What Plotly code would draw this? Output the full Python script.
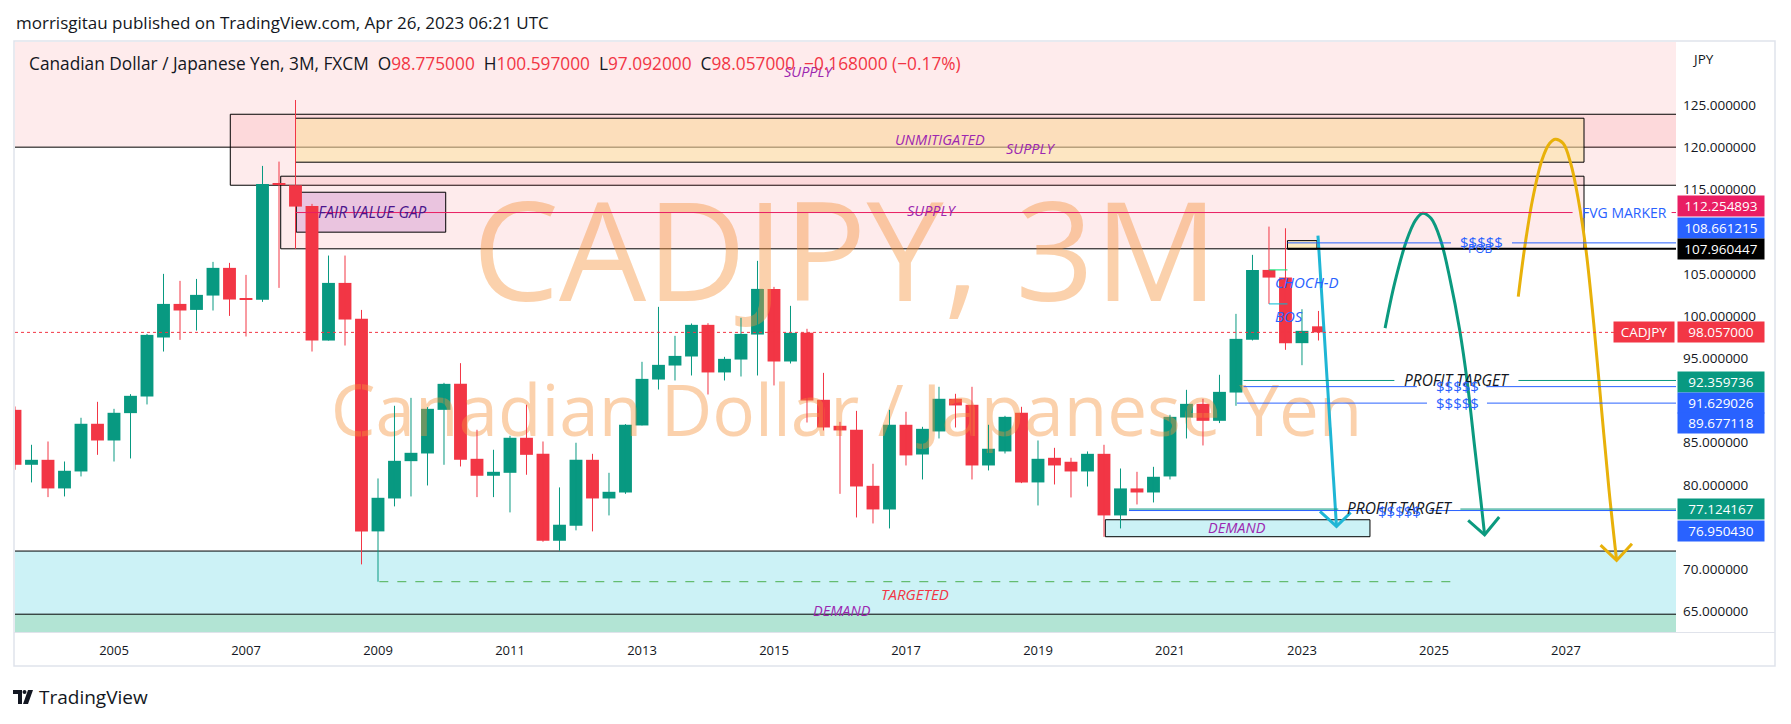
import plotly.graph_objects as go

# ---------------- data (quarterly CADJPY candles, 2003Q3 .. 2023Q2) ----------------
first_year, first_q = 2003, 3
opens = [88.88, 82.37, 82.96, 79.57, 81.58, 87.23, 85.25, 88.49, 90.46, 97.45,
         101.43, 100.72, 102.42, 105.70, 101.99, 101.91, 115.62, 115.49, 113.04, 97.09,
         103.92, 99.66, 74.48, 78.38, 82.80, 83.71, 88.88, 91.96, 83.08, 81.07,
         81.42, 85.57, 83.67, 73.37, 75.15, 82.96, 78.38, 79.09, 87.03, 92.47,
         94.13, 95.20, 98.95, 93.31, 94.84, 97.80, 103.21, 94.61, 98.00, 90.07,
         86.99, 86.52, 79.88, 77.08, 87.11, 83.59, 86.32, 90.19, 89.48, 82.29,
         83.95, 88.53, 80.28, 83.20, 82.73, 81.58, 83.67, 76.37, 79.57, 79.09,
         80.99, 87.97, 89.59, 87.58, 90.93, 97.17, 105.46, 104.55, 96.78, 98.775]
highs = [89.28, 84.74, 85.13, 82.76, 87.94, 89.83, 89.00, 90.74, 97.88, 104.99,
         104.16, 104.39, 106.41, 106.29, 104.87, 117.78, 118.29, 125.59, 113.28, 107.16,
         107.16, 100.72, 80.75, 89.36, 90.30, 89.20, 92.08, 94.41, 86.52, 84.15,
         85.81, 89.48, 85.13, 79.69, 84.98, 83.67, 81.42, 87.19, 94.57, 101.08,
         97.65, 99.11, 99.15, 95.16, 99.78, 106.53, 103.45, 101.20, 98.48, 93.26,
         87.46, 88.76, 82.49, 88.88, 88.65, 86.87, 91.61, 90.78, 91.61, 87.11,
         88.17, 89.24, 85.25, 84.38, 83.20, 83.95, 84.74, 81.93, 81.54, 82.13,
         88.29, 91.25, 90.19, 93.03, 100.25, 107.24, 110.59, 110.39, 100.80, 100.597]
lows = [81.78, 80.28, 78.54, 78.62, 80.99, 83.55, 82.76, 83.12, 89.52, 95.79,
        97.17, 98.27, 100.65, 100.01, 97.57, 101.67, 103.33, 107.95, 95.79, 97.09,
        96.50, 70.57, 68.52, 77.44, 78.62, 79.92, 82.37, 82.17, 78.54, 78.54,
        76.73, 81.19, 73.25, 72.19, 74.60, 74.48, 76.37, 78.93, 87.03, 91.29,
        92.36, 92.95, 90.70, 92.36, 92.83, 92.95, 91.77, 94.37, 87.38, 86.44,
        78.93, 76.13, 75.42, 74.83, 82.29, 80.63, 85.49, 86.79, 80.63, 81.70,
        83.71, 80.20, 77.55, 80.04, 78.50, 79.80, 73.84, 74.83, 77.67, 77.91,
        80.63, 85.49, 84.66, 87.31, 89.36, 97.10, 101.43, 95.99, 94.17, 97.092]
closes = [82.37, 82.96, 79.57, 81.66, 87.23, 85.25, 88.53, 90.54, 97.76, 101.43,
          100.65, 102.50, 105.70, 101.95, 101.93, 115.65, 115.52, 112.96, 97.09, 103.92,
          99.58, 74.48, 78.46, 82.84, 83.79, 89.00, 91.96, 82.96, 81.07, 81.54,
          85.57, 83.55, 73.37, 75.27, 82.96, 78.38, 79.17, 87.11, 92.55, 94.21,
          95.27, 98.95, 93.31, 94.92, 97.88, 103.21, 94.61, 98.00, 89.99, 86.79,
          86.44, 79.80, 77.08, 87.11, 83.48, 86.63, 90.19, 89.40, 82.29, 84.27,
          88.05, 80.28, 83.08, 82.29, 81.58, 83.67, 76.37, 79.57, 79.09, 80.95,
          88.05, 89.59, 87.58, 91.01, 97.29, 105.46, 104.55, 96.78, 98.24, 98.057]

year_ticks = [2005, 2007, 2009, 2011, 2013, 2015, 2017, 2019, 2021, 2023, 2025, 2027]
price_ticks = [65, 70, 80, 85, 95, 100, 105, 115, 120, 125]   # 75, 90, 110 hidden by level labels

# horizontal levels shown on the price scale
level_values = [112.254893, 108.661215, 107.960447, 92.359736, 91.629026, 89.677118, 77.124167, 76.950430]
level_colors = ["#e91e63", "#2962ff", "#000000", "#089981", "#2962ff", "#2962ff", "#089981", "#2962ff"]
level_label_px = [206, 228, 249.3, 381.7, 402.5, 423.3, 509, 531]   # label box centres (px) after de-overlap
last_price = 98.057

# hand-drawn projection paths (decimal year, price)
teal_path_t = [2024.259, 2024.404, 2024.579, 2024.723, 2024.827, 2024.955, 2025.100, 2025.245, 2025.389, 2025.506, 2025.621, 2025.709, 2025.767]
teal_path_v = [98.56, 103.89, 108.81, 111.38, 112.18, 111.58, 109.01, 104.28, 98.36, 92.05, 84.15, 78.23, 74.08]
teal_head_t = [2025.518, 2025.767, 2025.988]
teal_head_v = [75.78, 74.08, 76.18]
gold_path_t = [2026.277, 2026.376, 2026.492, 2026.636, 2026.753, 2026.839, 2026.956, 2027.071, 2027.188, 2027.303, 2027.420, 2027.535, 2027.652, 2027.767]
gold_path_v = [102.30, 108.22, 113.75, 118.49, 120.46, 120.94, 120.46, 118.10, 113.75, 107.83, 99.15, 89.27, 79.41, 71.04]
gold_head_t = [2027.524, 2027.767, 2028.0]
gold_head_v = [72.86, 71.04, 73.02]
cyan_path_t = [2023.242, 2023.523]
cyan_path_v = [109.52, 75.07]
cyan_head_t = [2023.273, 2023.523, 2023.738]
cyan_head_v = [76.84, 75.07, 76.72]

# ---------------- layout geometry ----------------
W, H = 1791, 724
PL, PR, PT, PB = 15, 1676, 42, 632          # plot area in px
X0, X1 = 2003.5, 2028.667
Y0, Y1 = 62.56, 132.46
GREEN, RED = "#089981", "#f23645"
BLUE, PURPLE, TXT = "#2962ff", "#9c27b0", "#131722"
FONT = "Open Sans"

def pxp(x, y):
    return (x - PL) / (PR - PL), (PB - y) / (PB - PT)

xs = []
for i in range(len(opens)):
    q = first_q - 1 + i
    xs.append(first_year + q / 4.0)

fig = go.Figure()

# watermark (drawn first so candles sit above it)
fig.add_trace(go.Scatter(x=[2016.08, 2016.10], y=[105.9, 87.9], mode="text",
                         text=["CADJPY, 3M", "Canadian Dollar / Japanese Yen"],
                         textposition="middle center",
                         textfont=dict(family=FONT, size=[138, 71], color="rgba(245,145,58,0.42)"),
                         hoverinfo="skip", showlegend=False))

# wicks
for col, up in ((GREEN, True), (RED, False)):
    wx, wy = [], []
    for xi, o, h, l, c in zip(xs, opens, highs, lows, closes):
        if (c >= o) == up:
            wx += [xi, xi, None]
            wy += [l, h, None]
    fig.add_trace(go.Scatter(x=wx, y=wy, mode="lines", line=dict(color=col, width=1),
                             hoverinfo="skip", showlegend=False))

# bodies
base = [min(o, c) for o, c in zip(opens, closes)]
height = [max(abs(c - o), 0.13) for o, c in zip(opens, closes)]
colors = [GREEN if c >= o else RED for o, c in zip(opens, closes)]
fig.add_trace(go.Bar(x=xs, y=height, base=base, width=0.195, marker=dict(color=colors, line=dict(width=0)),
                     hoverinfo="skip", showlegend=False))

# projection curves
def curve(t, v, col, shape="spline"):
    fig.add_trace(go.Scatter(x=t, y=v, mode="lines", line=dict(color=col, width=3, shape=shape, smoothing=1.0),
                             hoverinfo="skip", showlegend=False))

curve(cyan_path_t, cyan_path_v, "#1fb6d5", "linear")
curve(cyan_head_t, cyan_head_v, "#1fb6d5", "linear")
curve(teal_path_t, teal_path_v, "#0b9a7f")
curve(teal_head_t, teal_head_v, "#0b9a7f", "linear")
curve(gold_path_t, gold_path_v, "#e8b10a")
curve(gold_head_t, gold_head_v, "#e8b10a", "linear")

shapes = []
PINK = "rgba(242,54,69,0.10)"

def rect(x0, x1, y0, y1, fill, line="black", lw=1):
    shapes.append(dict(type="rect", xref="x", yref="y", x0=x0, x1=x1, y0=y0, y1=y1,
                       fillcolor=fill, line=dict(color=line, width=lw), layer="below"))

def hline(x0, x1, v, col, lw=1, dash="solid", gaps=(), layer="above"):
    pts = [x0]
    for g0, g1 in gaps:
        pts += [g0, g1]
    pts.append(x1)
    for a, b in zip(pts[0::2], pts[1::2]):
        shapes.append(dict(type="line", xref="x", yref="y", x0=a, x1=b, y0=v, y1=v,
                           line=dict(color=col, width=lw, dash=dash), layer=layer))

XE = 2029.5
# supply zones
rect(1999, XE, 120.0, 140, PINK)
rect(2006.762, XE, 115.49, 123.90, PINK)
rect(2007.75, 2027.273, 118.22, 123.43, "rgba(251,226,160,0.55)")
rect(2007.526, 2027.273, 107.96, 116.56, PINK)
rect(2007.762, 2010.026, 109.93, 114.66, "rgba(156,39,176,0.20)")
# demand zones
rect(1999, XE, 50, 72.15, "rgba(0,188,212,0.20)")
rect(1999, XE, 50, 64.67, "rgba(76,175,80,0.20)")
rect(2020.02, 2024.03, 73.85, 75.86, "rgba(0,188,212,0.20)")
rect(2022.78, 2023.227, 107.96, 108.93, "rgba(255,235,59,0.25)")

# lines
hline(X0, XE, last_price, RED, 1, "dot")
hline(2007.75, XE, level_values[0], "#e91e63", 1, gaps=[(2027.10, 2028.6)])
hline(2022.78, XE, level_values[1], BLUE, 1, gaps=[(2025.258, 2026.182)])
hline(2022.78, XE, level_values[2], "black", 2)
hline(2022.114, XE, level_values[3], GREEN, 1, gaps=[(2024.40, 2026.28)])
hline(2022.114, XE, level_values[4], BLUE, 1, gaps=[(2024.74, 2025.795)])
hline(2022.015, XE, level_values[5], BLUE, 1, gaps=[(2024.894, 2025.803)])
hline(2020.379, XE, level_values[6], GREEN, 1, gaps=[(2023.55, 2025.40)])
hline(2020.379, XE, level_values[7], BLUE, 1, gaps=[(2024.03, 2024.93)])
hline(2009.02, 2025.25, 68.52, "#4caf50", 1, "dash")
hline(2022.5, 2022.78, 105.46, "#00e676", 1)
hline(2022.5, 2022.78, 101.43, "#00bcd4", 1)

# frame and separators (paper coords)
fx0, fy0 = pxp(14, 666)
fx1, fy1 = pxp(1775, 41)
shapes.append(dict(type="rect", xref="paper", yref="paper", x0=fx0, x1=fx1, y0=fy0, y1=fy1,
                   line=dict(color="#e0e3eb", width=1.5), fillcolor="rgba(0,0,0,0)", layer="above"))
sx0, sy = pxp(14, 632.5)
sx1, _ = pxp(1775, 632.5)
shapes.append(dict(type="line", xref="paper", yref="paper", x0=sx0, x1=sx1, y0=sy, y1=sy,
                   line=dict(color="#e0e3eb", width=1), layer="above"))

# TradingView logo glyph
def ppath(points):
    s = ""
    for k, (a, b) in enumerate(points):
        px, py = pxp(a, b)
        s += ("M" if k == 0 else "L") + f"{px:.5f},{py:.5f} "
    return s + "Z"
shapes.append(dict(type="path", xref="paper", yref="paper", path=ppath([(13, 690), (22, 690), (22, 704), (18, 704), (18, 694), (13, 694)]),
                   fillcolor="#131722", line=dict(width=0)))
shapes.append(dict(type="path", xref="paper", yref="paper", path=ppath([(28, 690), (33, 690), (28, 704), (23, 704)]),
                   fillcolor="#131722", line=dict(width=0)))
cx0, cy0 = pxp(22.5, 690)
cx1, cy1 = pxp(26.5, 694)
shapes.append(dict(type="circle", xref="paper", yref="paper", x0=cx0, x1=cx1, y0=cy1, y1=cy0,
                   fillcolor="#131722", line=dict(width=0)))

ann = []

def txt(t, v, s, col, size=13, italic=False, xanchor="center"):
    ann.append(dict(x=t, y=v, xref="x", yref="y", text=(f"<i>{s}</i>" if italic else s),
                    showarrow=False, xanchor=xanchor, yanchor="middle",
                    font=dict(family=FONT, size=size, color=col)))

txt(2015.53, 128.95, "SUPPLY", PURPLE, 14.5, True)
txt(2017.515, 120.94, "UNMITIGATED", PURPLE, 14.5, True)
txt(2018.89, 119.87, "SUPPLY", PURPLE, 14.5, True)
txt(2017.40, 112.45, "SUPPLY", PURPLE, 14.5, True)
txt(2008.92, 112.37, "FAIR VALUE GAP", "#4a148c", 15.5, True)
txt(2027.88, 112.25, "FVG MARKER", BLUE, 14)
txt(2025.727, 108.75, "$$$$$", BLUE, 15)
txt(2025.71, 108.05, "POB", BLUE, 12)
txt(2023.07, 104.08, "CHOCH-D", BLUE, 15, True)
txt(2022.80, 100.05, "BOS", BLUE, 15, True)
txt(2025.344, 92.45, "PROFIT TARGET", TXT, 15.5, True)
txt(2025.36, 91.73, "$$$$$", BLUE, 15)
txt(2025.36, 89.68, "$$$$$", BLUE, 15)
txt(2024.48, 77.25, "PROFIT TARGET", TXT, 15.5, True)
txt(2024.474, 76.85, "$$$$$", BLUE, 15)
txt(2022.015, 74.99, "DEMAND", PURPLE, 14.5, True)
txt(2016.03, 65.08, "DEMAND", PURPLE, 14.5, True)
txt(2017.14, 67.1, "TARGETED", RED, 15, True)

# price-scale labels
def scale_label(text, ypx, bg, width=86):
    px, py = pxp(1677, ypx)
    ann.append(dict(x=px, y=py, xref="paper", yref="paper", text=text, showarrow=False,
                    xanchor="left", yanchor="middle", width=width, height=20, bgcolor=bg,
                    borderpad=0, align="center",
                    font=dict(family=FONT, size=13.5, color="white")))

for v, c, ypx in zip(level_values, level_colors, level_label_px):
    scale_label(f"{v:.6f}", ypx, c)
scale_label(f"{last_price:.6f}", 332.3, RED)
px, py = pxp(1675, 332.3)
ann.append(dict(x=px, y=py, xref="paper", yref="paper", text="CADJPY", showarrow=False,
                xanchor="right", yanchor="middle", width=60, height=20, bgcolor=RED, borderpad=0,
                font=dict(family=FONT, size=13.5, color="white")))

# header texts
px, py = pxp(14, 23)
ann.append(dict(x=px, y=py, xref="paper", yref="paper", showarrow=False, xanchor="left", yanchor="middle",
                text="morrisgitau published on TradingView.com, Apr 26, 2023 06:21 UTC",
                font=dict(family=FONT, size=17, color=TXT)))
r = lambda s: f"<span style='color:{RED}'>{s}</span>"
head = ("Canadian Dollar / Japanese Yen, 3M, FXCM&nbsp;&nbsp;O" + r("98.775000") + "&nbsp;&nbsp;H" + r("100.597000")
        + "&nbsp;&nbsp;L" + r("97.092000") + "&nbsp;&nbsp;C" + r("98.057000") + "&nbsp;&nbsp;" + r("\u22120.168000 (\u22120.17%)"))
px, py = pxp(27, 64)
ann.append(dict(x=px, y=py, xref="paper", yref="paper", showarrow=False, xanchor="left", yanchor="middle",
                text=head, font=dict(family=FONT, size=17.3, color=TXT)))
px, py = pxp(1690, 59)
ann.append(dict(x=px, y=py, xref="paper", yref="paper", showarrow=False, xanchor="left", yanchor="middle",
                text="JPY", font=dict(family=FONT, size=13.5, color=TXT)))
px, py = pxp(37, 697)
ann.append(dict(x=px, y=py, xref="paper", yref="paper", showarrow=False, xanchor="left", yanchor="middle",
                text="TradingView", font=dict(family=FONT, size=19, color=TXT)))

fig.update_layout(
    width=W, height=H,
    margin=dict(l=PL, r=W - PR, t=PT, b=H - PB),
    paper_bgcolor="white", plot_bgcolor="white",
    showlegend=False, hovermode=False, barmode="overlay",
    shapes=shapes, annotations=ann,
    xaxis=dict(range=[X0, X1], showgrid=False, zeroline=False, showline=False,
               tickvals=year_ticks, ticktext=[str(y) for y in year_ticks], ticks="",
               ticklabelstandoff=9, tickfont=dict(family=FONT, size=13, color=TXT), fixedrange=True),
    yaxis=dict(range=[Y0, Y1], side="right", showgrid=False, zeroline=False, showline=False,
               tickvals=price_ticks, ticktext=[f"{v:.6f}" for v in price_ticks], ticks="",
               ticklabelstandoff=6, tickfont=dict(family=FONT, size=13.5, color=TXT), fixedrange=True),
)

fig.write_html("out.html", config={"displayModeBar": False},
               post_script="document.body.style.margin='0px';document.body.style.overflow='hidden';")
